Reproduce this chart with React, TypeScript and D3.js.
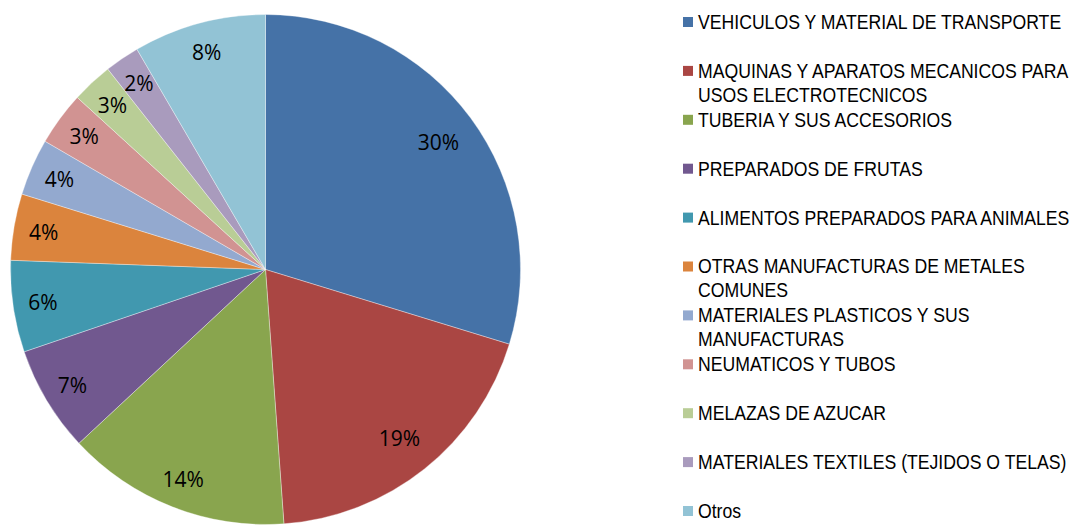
import React from "react";
import * as d3 from "d3";

const categories = [
  "VEHICULOS Y MATERIAL DE TRANSPORTE",
  "MAQUINAS Y APARATOS MECANICOS PARA|USOS ELECTROTECNICOS",
  "TUBERIA Y SUS ACCESORIOS",
  "PREPARADOS DE FRUTAS",
  "ALIMENTOS PREPARADOS PARA ANIMALES",
  "OTRAS MANUFACTURAS DE METALES|COMUNES",
  "MATERIALES PLASTICOS Y SUS|MANUFACTURAS",
  "NEUMATICOS Y TUBOS",
  "MELAZAS DE AZUCAR",
  "MATERIALES TEXTILES (TEJIDOS O TELAS)",
  "Otros",
];
const values = [29.7, 19.1, 14.2, 6.7, 5.8, 4.2, 3.6, 3.4, 2.6, 2.2, 8.4];
const colors = [
  "#4572A7", "#AA4643", "#89A54E", "#71588F", "#4198AF", "#DB843D",
  "#93A9CF", "#D19392", "#B9CD96", "#A99BBD", "#92C3D5",
];

export default function App() {
  const width = 1075;
  const height = 525;
  const cx = 265.5;
  const cy = 269.5;
  const r = 255;
  const total = d3.sum(values);
  const pie = d3.pie<number>().sort(null).value((d) => d);
  const arcs = pie(values);
  const arc = d3.arc<d3.PieArcDatum<number>>().innerRadius(0).outerRadius(r);
  const fmt = (v: number) => `${Math.round((v / total) * 100)}%`;
  const labelPos = (a: d3.PieArcDatum<number>) => {
    const lr = a.data / total > 0.15 ? 215 : 225;
    const ang = (a.startAngle + a.endAngle) / 2;
    return [Math.sin(ang) * lr, -Math.cos(ang) * lr];
  };

  const legendX = 683;
  const legendY0 = 22;
  const legendStep = 48.9;

  return (
    <svg
      width={width}
      height={height}
      style={{ position: "absolute", left: 0, top: 0, background: "#fff" }}
    >
      <g transform={`translate(${cx},${cy})`}>
        {arcs.map((a, i) => (
          <path key={i} d={arc(a) || ""} fill={colors[i]} stroke="#ffffff" strokeOpacity={0.5} strokeWidth={0.7} />
        ))}
        {arcs.map((a, i) => {
          const [x, y] = labelPos(a);
          return (
            <text
              key={"l" + i}
              x={x}
              y={y}
              textAnchor="middle"
              dominantBaseline="central"
              fontFamily="'Open Sans', sans-serif"
              fontSize={21}
              fill="#000"
            >
              {fmt(a.data)}
            </text>
          );
        })}
      </g>
      <g>
        {categories.map((c, i) => {
          const y = legendY0 + legendStep * i;
          const lines = c.split("|");
          return (
            <g key={"g" + i}>
              <rect x={legendX} y={y - 5} width={10} height={10} fill={colors[i]} />
              <g transform={`translate(${legendX + 15},0) scale(0.905,1)`}>
                {lines.map((ln, j) => (
                  <text
                    key={j}
                    x={0}
                    y={y + 7 + j * 24}
                    fontFamily="'Liberation Sans', Arial, sans-serif"
                    fontSize={19.5}
                    fill="#000"
                  >
                    {ln}
                  </text>
                ))}
              </g>
            </g>
          );
        })}
      </g>
    </svg>
  );
}
